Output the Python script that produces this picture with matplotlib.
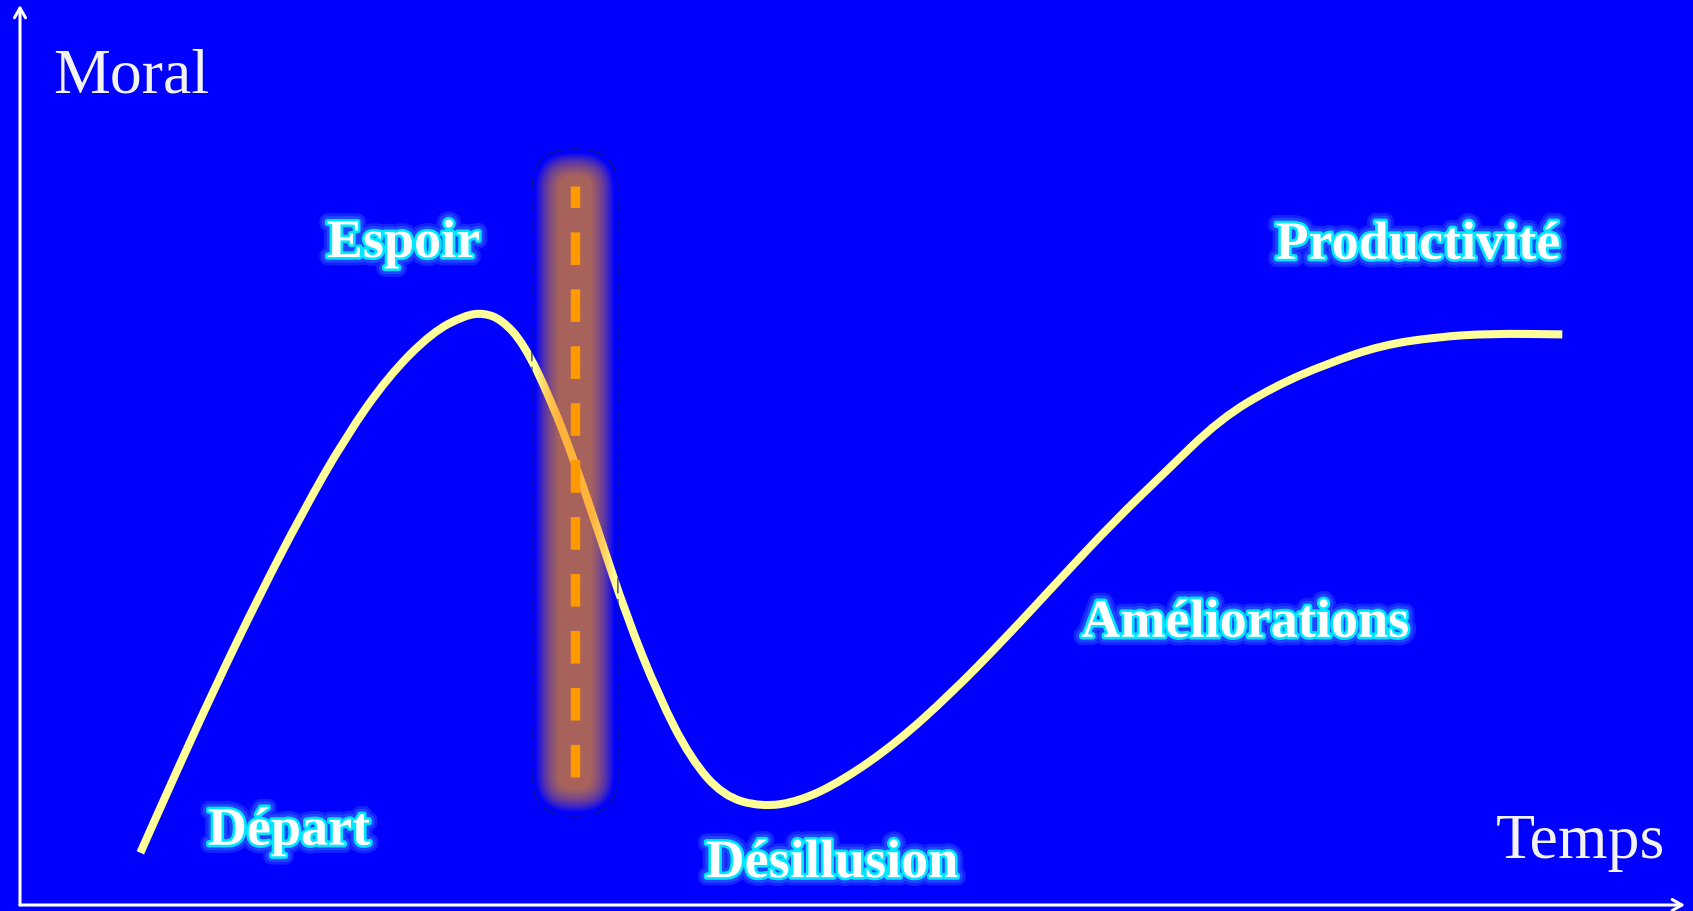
import matplotlib
matplotlib.use("Agg")
import matplotlib.pyplot as plt
import matplotlib.patheffects as pe
from matplotlib.patches import FancyBboxPatch, PathPatch
from matplotlib.path import Path

# ---- data (time t, morale m, both 0..100) ----
curve_t = [7.25, 9.20, 11.80, 14.40, 17.01, 19.61, 22.21, 24.81, 26.77, 27.93,
           29.04, 30.34, 31.97, 33.46, 34.89, 36.52, 38.47, 40.42, 42.37, 44.65,
           46.93, 49.53, 52.78, 56.03, 59.28, 62.54, 65.79, 69.04, 72.30, 75.54,
           78.80, 82.05, 85.30, 88.55, 92.91]
curve_m = [5.8, 13.9, 24.4, 34.3, 43.6, 52.0, 58.8, 63.6, 65.5, 65.8,
           65.0, 62.4, 56.2, 49.0, 41.2, 32.2, 23.2, 16.2, 12.1, 10.9,
           11.5, 13.8, 18.0, 23.4, 29.5, 36.0, 42.4, 48.2, 54.0, 57.6,
           60.2, 62.2, 63.1, 63.5, 63.4]

phase_labels = ["Départ", "Espoir", "Désillusion", "Améliorations", "Productivité"]
phase_t = [16.2, 23.1, 48.9, 73.8, 84.2]
phase_m = [6.7, 72.0, 3.1, 29.8, 71.8]

axis_labels = ["Moral", "Temps"]

now_t = 33.43          # position of the dashed marker
now_m_range = (14.2, 79.9)

# ---- figure ----
W, H, DPI = 16.93, 9.11, 100
fig = plt.figure(figsize=(W, H), dpi=DPI, facecolor="#0000FF")
ax = fig.add_axes([0, 0, 1, 1])
ax.set_facecolor("#0000FF")
px_x = 16.6   # pixels per t unit
px_y = 9.0    # pixels per m unit
ax.set_xlim(-20 / px_x, 1673 / px_x)
ax.set_ylim(-6 / px_y, 905 / px_y)
ax.axis("off")

# axes arrows
arr = dict(arrowstyle="->,head_length=0.7,head_width=0.4", color="white", lw=2.2,
           shrinkA=0, shrinkB=0)
ax.annotate("", xy=(0, 100.0), xytext=(0, 0), arrowprops=arr, annotation_clip=False)
ax.annotate("", xy=(100.3, 0), xytext=(0, 0), arrowprops=arr, annotation_clip=False)

# curve: smooth quadratic path through the read points (midpoint scheme)
pts = list(zip(curve_t, curve_m))
verts = [pts[0]]
codes = [Path.MOVETO]
mid = lambda a, b: ((a[0] + b[0]) / 2, (a[1] + b[1]) / 2)
verts.append(mid(pts[0], pts[1])); codes.append(Path.LINETO)
for i in range(1, len(pts) - 1):
    verts += [pts[i], mid(pts[i], pts[i + 1])]
    codes += [Path.CURVE3, Path.CURVE3]
verts.append(pts[-1]); codes.append(Path.LINETO)
ax.add_patch(PathPatch(Path(verts, codes), facecolor="none", edgecolor="#FFFF99",
                       lw=5.8, capstyle="butt", joinstyle="round", zorder=3))

# glowing band around the marker
asp = px_x / px_y
ox0, ox1 = now_t - 43 / px_x, now_t + 43 / px_x
oy0, oy1 = now_m_range[0] - 4.3, now_m_range[1] + 4.1
r_px = 40
n = 24
for i in range(n):
    d = 4 + i * 1.0
    rr = max(r_px - d, 2) / px_x
    p = FancyBboxPatch((ox0 + d / px_x, oy0 + d / px_y),
                       (ox1 - ox0) - 2 * d / px_x, (oy1 - oy0) - 2 * d / px_y,
                       boxstyle=f"round,pad=0,rounding_size={rr}",
                       mutation_aspect=asp, facecolor="#FF9A1A", edgecolor="none",
                       alpha=0.046, zorder=4)
    ax.add_patch(p)
outline = FancyBboxPatch((ox0, oy0), ox1 - ox0, oy1 - oy0,
                         boxstyle=f"round,pad=0,rounding_size={r_px / px_x}",
                         mutation_aspect=asp, facecolor="none", edgecolor="#14147a",
                         lw=0.8, linestyle=(0, (14, 5)), zorder=4)
ax.add_patch(outline)

plt.rcParams["lines.scale_dashes"] = False
ax.plot([now_t, now_t], list(now_m_range), color="#FF9900", lw=6.8,
        dashes=(23.5, 17.5), dash_capstyle="butt", zorder=5)

# phase labels with glow
effects = [pe.Stroke(linewidth=12, foreground="#3566ff", alpha=0.35),
           pe.Stroke(linewidth=8, foreground="#2a5cff", alpha=0.6),
           pe.Stroke(linewidth=3.8, foreground="#00E8FF"),
           pe.Normal()]
for lab, t, m in zip(phase_labels, phase_t, phase_m):
    ax.text(t, m, lab, family="Liberation Serif", weight="bold", fontsize=39,
            color="white", ha="center", va="baseline", path_effects=effects, zorder=6)

# axis titles
ax.text(2.0, 90.3, axis_labels[0], family="Liberation Serif", fontsize=46,
        color="#F2F2F2", ha="left", va="baseline", zorder=6)
ax.text(88.9, 5.2, axis_labels[1], family="Liberation Serif", fontsize=46,
        color="#F2F2F2", ha="left", va="baseline", zorder=6)

fig.savefig("out.png", dpi=DPI, facecolor=fig.get_facecolor())
